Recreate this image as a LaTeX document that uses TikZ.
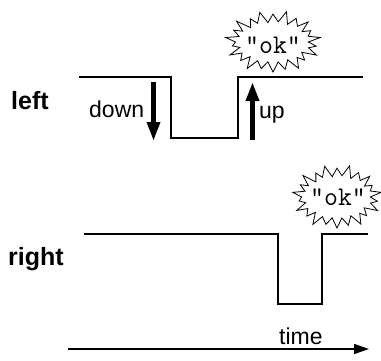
\documentclass[tikz,border=0pt]{standalone}
\usepackage{fontspec}
\setmainfont{Liberation Sans}
\usetikzlibrary{arrows.meta,calc}
\tikzset{
  sig/.style={line width=2.9pt, line join=miter},
  lbl/.style={font=\fontsize{25}{25}\selectfont\bfseries, inner sep=0pt},
  txt/.style={font=\fontsize{23}{23}\selectfont, inner sep=0pt},
  oktxt/.style={font=\fontsize{27}{27}\selectfont\ttfamily, inner sep=0pt, anchor=base},
  burstline/.style={line width=0.8pt, line join=miter},
  bigarrow/.style={line width=4.6pt, -{Triangle[width=12.5pt,length=19pt]}},
  timearrow/.style={line width=1.5pt, -{Triangle[width=10pt,length=15pt]}}
}
\newcommand\okburst[5]{%
  \draw[burstline] ($(#1)+(90:#3 and #3)$)
  \foreach \k/\f [evaluate=\k as \ang using 90+\k*360/44,
                  evaluate=\k as \isout using {mod(\k,2)==0 ? 1 : 0}] in
   {1/1.0,2/0.92,3/1.03,4/1.05,5/0.97,6/0.94,7/1.02,8/1.04,9/0.96,10/0.9,
    11/1.04,12/1.05,13/0.98,14/0.95,15/1.0,16/1.06,17/0.95,18/0.92,19/1.03,20/1.03,
    21/0.98,22/0.93,23/1.02,24/1.05,25/0.97,26/0.94,27/1.04,28/1.02,29/0.96,30/0.91,
    31/1.02,32/1.05,33/0.98,34/0.96,35/1.03,36/1.05,37/0.95,38/0.92,39/1.02,40/1.04,
    41/0.98,42/0.95,43/1.01}
   { -- ($(#1)+(\ang:{\f*(\isout*#2+(1-\isout)*#4)} and {\f*(\isout*#3+(1-\isout)*#5)})$) }
  -- cycle;}
\begin{document}
\begin{tikzpicture}[x=1pt,y=-1pt]
\useasboundingbox (0,0) rectangle (381,360);
% left signal
\coordinate (l0) at (79,77);
\coordinate (l1) at (171,77);
\coordinate (l2) at (171,138);
\coordinate (l3) at (238,138);
\coordinate (l4) at (238,77);
\coordinate (l5) at (363,77);
\draw[sig] (l0) -- (l1) -- (l2) -- (l3) -- (l4) -- (l5);
% right signal
\coordinate (r0) at (84,234);
\coordinate (r1) at (278,234);
\coordinate (r2) at (278,304);
\coordinate (r3) at (322,304);
\coordinate (r4) at (322,234);
\coordinate (r5) at (368,234);
\draw[sig] (r0) -- (r1) -- (r2) -- (r3) -- (r4) -- (r5);
% labels
\node[lbl, anchor=base west] (left) at (11,109) {left};
\node[lbl, anchor=base west] (right) at (8,265) {right};
\node[txt, anchor=base west] (down) at (89,117) {down};
\node[txt, anchor=base west] (up) at (259,118) {up};
\node[txt, anchor=base west] (time) at (279,344) {time};
% arrows
\coordinate (da) at (153.5,82);
\coordinate (db) at (153.5,141);
\draw[bigarrow] (da) -- (db);
\coordinate (ua) at (252.5,140);
\coordinate (ub) at (252.5,82);
\draw[bigarrow] (ua) -- (ub);
\coordinate (ta) at (68,349);
\coordinate (tb) at (369,349);
\draw[timearrow] (ta) -- (tb);
% bursts
\coordinate (b1) at (273,42);
\coordinate (b2) at (337,197);
\okburst{b1}{45.5}{30}{36}{20}
\okburst{b2}{42.5}{31}{34}{21}
\node[oktxt] (ok1) at (273,53) {"ok"};
\node[oktxt] (ok2) at (338,205) {"ok"};
\end{tikzpicture}
\end{document}
